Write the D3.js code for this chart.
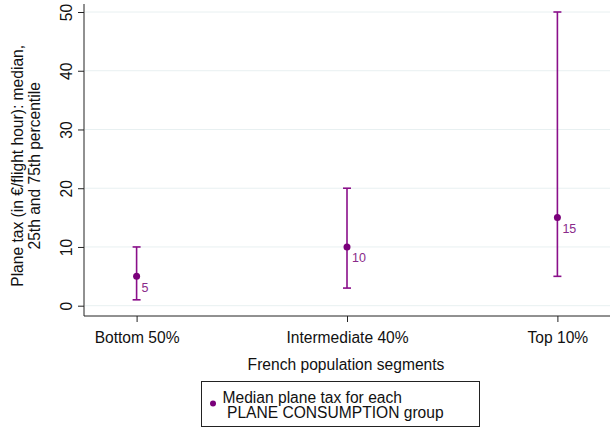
<!DOCTYPE html>
<html>
<head>
<meta charset="utf-8">
<script src="https://cdn.jsdelivr.net/npm/d3@7"></script>
<style>
  body { margin: 0; background: #fff; }
  svg { display: block; font-family: Arial, "Liberation Sans", sans-serif; }
</style>
</head>
<body>
<div id="chart"></div>
<script>
const categories = ["Bottom 50%", "Intermediate 40%", "Top 10%"];
const medians    = [5, 10, 15];
const p25        = [1, 3, 5];
const p75        = [10, 20, 50];
const yTicks     = [0, 10, 20, 30, 40, 50];

const W = 616, H = 443;
const purple = "#8a0f8a";
const fs = 15.6;
const m = { left: 84, right: 6, top: 12, bottom: 127 };

const svg = d3.select("#chart").append("svg").attr("width", W).attr("height", H);

const x = d3.scaleLinear().domain([0.75, 3.25]).range([m.left, W - m.right]);
const y = d3.scaleLinear().domain([0, 50]).range([305.7, 12]);
const axisY = 316;

// gridlines
svg.append("g").selectAll("line").data(yTicks).join("line")
    .attr("x1", m.left + 1).attr("x2", W - m.right)
    .attr("y1", d => y(d)).attr("y2", d => y(d))
    .attr("stroke", "#e8f0f1").attr("stroke-width", 1);

// y axis
const ya = svg.append("g").attr("transform", `translate(${m.left},0)`)
    .call(d3.axisLeft(y).tickValues(yTicks).tickSize(6).tickPadding(4));
ya.select(".domain").attr("d", `M0,${y(50) - 8}V${axisY}`).attr("stroke", "#222");
ya.selectAll(".tick line").attr("stroke", "#222");
ya.selectAll(".tick text")
    .attr("font-size", fs).attr("fill", "#111")
    .attr("transform", "rotate(-90)")
    .attr("x", 0).attr("y", -17)
    .attr("dy", "0.35em")
    .attr("text-anchor", "middle");

// x axis
const xa = svg.append("g").attr("transform", `translate(0,${axisY})`)
    .call(d3.axisBottom(x).tickValues([1, 2, 3]).tickFormat((d, i) => categories[i]).tickSize(6).tickPadding(10));
xa.select(".domain").attr("d", `M${m.left},0H${W - m.right}`).attr("stroke", "#222");
xa.selectAll(".tick line").attr("stroke", "#222");
xa.selectAll(".tick text").attr("font-size", fs).attr("fill", "#111");

// y title
const yt = svg.append("text")
    .attr("transform", `translate(23,${(y(0) + y(50)) / 2 + 7}) rotate(-90)`)
    .attr("text-anchor", "middle").attr("font-size", fs).attr("fill", "#111");
yt.append("tspan").attr("x", 0).attr("dy", 0).text("Plane tax (in €/flight hour): median,");
yt.append("tspan").attr("x", 0).attr("dy", 17).text("25th and 75th percentile");

// x title
svg.append("text").attr("x", 346).attr("y", 369.5)
    .attr("text-anchor", "middle").attr("font-size", fs).attr("fill", "#111")
    .text("French population segments");

// range bars
const data = categories.map((c, i) => ({ c, i: i + 1, med: medians[i], lo: p25[i], hi: p75[i] }));
const g = svg.append("g");
g.selectAll(".rng").data(data).join("line").attr("class", "rng")
    .attr("x1", d => x(d.i)).attr("x2", d => x(d.i))
    .attr("y1", d => y(d.lo)).attr("y2", d => y(d.hi))
    .attr("stroke", purple).attr("stroke-width", 1.6);
["lo", "hi"].forEach(k => {
  g.selectAll(".cap-" + k).data(data).join("line").attr("class", "cap-" + k)
      .attr("x1", d => x(d.i) - 4).attr("x2", d => x(d.i) + 4)
      .attr("y1", d => y(d[k])).attr("y2", d => y(d[k]))
      .attr("stroke", purple).attr("stroke-width", 1.6);
});
g.selectAll(".pt").data(data).join("circle").attr("class", "pt")
    .attr("cx", d => x(d.i)).attr("cy", d => y(d.med)).attr("r", 3.5)
    .attr("fill", "#7a007a");
g.selectAll(".lbl").data(data).join("text").attr("class", "lbl")
    .attr("x", d => x(d.i) + 5).attr("y", d => y(d.med) + 15.5)
    .attr("font-size", 12.5).attr("fill", "#8a2a8a")
    .text(d => d.med);

// legend
const lg = svg.append("g");
lg.append("rect").attr("x", 201.5).attr("y", 381.5).attr("width", 278).attr("height", 45)
    .attr("fill", "#fff").attr("stroke", "#222").attr("stroke-width", 1);
lg.append("circle").attr("cx", 213).attr("cy", 403.5).attr("r", 3).attr("fill", "#7a007a");
lg.append("text").attr("x", 222.5).attr("y", 402.5).attr("font-size", fs).attr("fill", "#111")
    .text("Median plane tax for each");
lg.append("text").attr("x", 227).attr("y", 418).attr("font-size", fs).attr("fill", "#111")
    .text("PLANE CONSUMPTION group");
</script>
</body>
</html>
